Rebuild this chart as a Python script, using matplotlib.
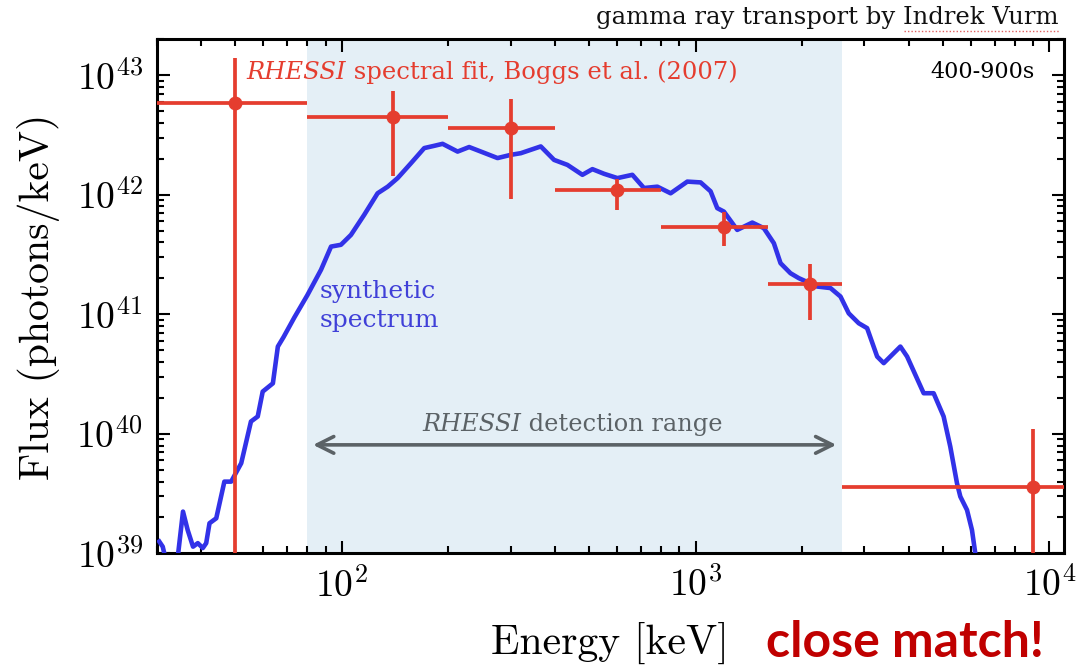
import matplotlib
matplotlib.use('Agg')
import matplotlib.pyplot as plt
from matplotlib.ticker import FuncFormatter
from matplotlib.lines import Line2D
import numpy as np

# synthetic spectrum (energy in keV, flux in photons/keV)
energy = [30.5, 31.2, 31.7, 33.0, 34.4, 35.6, 36.7, 38.0, 39.2, 40.5, 41.4, 42.3, 44.2,
          46.6, 48.7, 52.0, 55.4, 57.9, 59.8, 63.9, 66.0, 68.5, 73.5, 80.0, 87.4, 93.3,
          99.5, 106.2, 115.8, 126.3, 134.9, 143.9, 157.0, 171.1, 182.6, 192.8, 212.6,
          229.2, 247.4, 275.7, 300.6, 320.8, 365.3, 398.3, 434.5, 479.0, 511.2, 551.2,
          601.5, 663.0, 715.0, 780.2, 850.6, 948.0, 1033.7, 1103, 1152, 1203, 1312,
          1447, 1560, 1665, 1739, 1855, 1958, 2208, 2407, 2569, 2711, 2893, 3055, 3261,
          3404, 3793, 3963, 4414, 4710, 5026, 5249, 5484, 5604, 5853, 6045, 6177, 6250]
flux = [1.26e39, 1.14e39, 9.3e38, 5.0e38, 9.3e38, 2.24e39, 1.57e39, 1.14e39, 1.22e39,
        1.11e39, 1.22e39, 1.79e39, 1.97e39, 3.99e39, 3.99e39, 5.69e39, 1.27e40, 1.40e40,
        2.26e40, 2.65e40, 5.38e40, 6.46e40, 9.44e40, 1.45e41, 2.36e41, 3.69e41, 3.82e41,
        4.62e41, 6.81e41, 1.03e42, 1.17e42, 1.38e42, 1.84e42, 2.46e42, 2.57e42, 2.67e42,
        2.30e42, 2.51e42, 2.30e42, 2.03e42, 2.16e42, 2.23e42, 2.54e42, 1.96e42, 1.78e42,
        1.47e42, 1.64e42, 1.50e42, 1.38e42, 1.47e42, 1.14e42, 1.17e42, 1.03e42, 1.29e42,
        1.27e42, 1.07e42, 7.74e41, 7.24e41, 5.09e41, 5.86e41, 5.26e41, 3.94e41, 2.68e41,
        2.21e41, 2.01e41, 1.71e41, 1.66e41, 1.41e41, 1.02e41, 8.43e40, 7.67e40, 4.44e40,
        3.91e40, 5.38e40, 4.44e40, 2.19e40, 2.19e40, 1.40e40, 7.83e39, 3.86e39, 2.99e39,
        2.31e39, 1.57e39, 1.00e39, 5.0e38]

# RHESSI spectral fit, Boggs et al. (2007)
bin_center = [50, 140, 300, 600, 1200, 2100, 9000]
bin_lo = [20, 80, 200, 400, 800, 1600, 2600]
bin_hi = [80, 200, 400, 800, 1600, 2600, 20000]
fit_flux = [5.9e42, 4.5e42, 3.6e42, 1.09e42, 5.4e41, 1.79e41, 3.6e39]
fit_lo = [1e38, 1.45e42, 9.3e41, 7.4e41, 3.7e41, 9.0e40, 1e38]
fit_hi = [1.4e43, 7.4e42, 6.3e42, 1.36e42, 7.2e41, 2.65e41, 1.09e40]

rhessi_range = [80, 2600]
arrow_ends = [83, 2500]
arrow_flux = 8.1e39

plt.rcParams['mathtext.fontset'] = 'cm'
plt.rcParams['axes.unicode_minus'] = False

red = '#e53d2f'
blue = '#3232e8'
grey = '#5b6266'

fig = plt.figure(figsize=(10.77, 6.67), dpi=100)
ax = fig.add_axes([0.1455, 0.1702, 0.8424, 0.7709])
ax.set_xscale('log')
ax.set_yscale('log')
ax.set_xlim(30, 1.1e4)
ax.set_ylim(1e39, 2e43)

ax.axvspan(rhessi_range[0], rhessi_range[1], color='#e4eff6', lw=0, zorder=0)

ax.plot(energy, flux, color=blue, lw=3.3, zorder=3, solid_joinstyle='round')

c = np.array(bin_center)
f = np.array(fit_flux)
xerr = [c - np.array(bin_lo), np.array(bin_hi) - c]
yerr = [f - np.array(fit_lo), np.array(fit_hi) - f]
ax.errorbar(c, f, xerr=xerr, yerr=yerr, fmt='o', color=red, ms=9, elinewidth=2.7,
            capsize=0, zorder=4)

ax.annotate('', xy=(arrow_ends[0], arrow_flux), xytext=(arrow_ends[1], arrow_flux),
            arrowprops=dict(arrowstyle='<->', color=grey, lw=2.6,
                            mutation_scale=30, shrinkA=0, shrinkB=0), zorder=2)

serif = 'DejaVu Serif'
t1 = ax.text(0.0984, 0.936, 'RHESSI', transform=ax.transAxes, color=red,
             family=serif, style='italic', fontsize=17.5, va='center', ha='left')
ax.annotate(' spectral fit, Boggs et al. (2007)', xy=(1, 0), xycoords=t1,
            color=red, family=serif, fontsize=17.5, va='bottom', ha='left')

ax.text(0.968, 0.936, '400-900s', transform=ax.transAxes, color='#000000',
        family=serif, fontsize=16, va='center', ha='right')

ax.text(0.18, 0.4813, 'synthetic\nspectrum', transform=ax.transAxes, color='#4040d8',
        family=serif, fontsize=18, va='center', ha='left', linespacing=1.3)

t2 = ax.text(0.2925, 0.25, 'RHESSI', transform=ax.transAxes, color=grey,
             family=serif, style='italic', fontsize=17.4, va='center', ha='left')
ax.annotate(' detection range', xy=(1, 0), xycoords=t2, color=grey,
            family=serif, fontsize=17.4, va='bottom', ha='left')

ax.set_xlabel('Energy [keV]', family='cmr10', fontsize=30, labelpad=13)
ax.set_ylabel('Flux (photons/keV)', family='cmr10', fontsize=30, labelpad=12)

sci = FuncFormatter(lambda v, pos: r'$10^{%d}$' % round(np.log10(v)))
ax.xaxis.set_major_formatter(sci)
ax.yaxis.set_major_formatter(sci)

ax.tick_params(which='both', direction='in', top=True, right=True, width=1.5)
ax.tick_params(which='major', length=9, labelsize=27, pad=10)
ax.tick_params(which='minor', length=5)
for s in ax.spines.values():
    s.set_linewidth(2.2)

fig.text(0.983, 0.9745, 'gamma ray transport by Indrek Vurm', family=serif,
         fontsize=17.5, ha='right', va='center', color='#111111')
# spell-check squiggle under the name, as in the slide
fig.add_artist(Line2D([0.839, 0.983], [0.953, 0.953], transform=fig.transFigure,
                      color='#e06060', lw=1.0, ls=(0, (1, 1.5))))
fig.text(0.711, 0.037, 'close match!', family='Lato', weight='bold', fontsize=36,
         ha='left', va='center', color='#c00000')

fig.savefig('out.png', dpi=100)
